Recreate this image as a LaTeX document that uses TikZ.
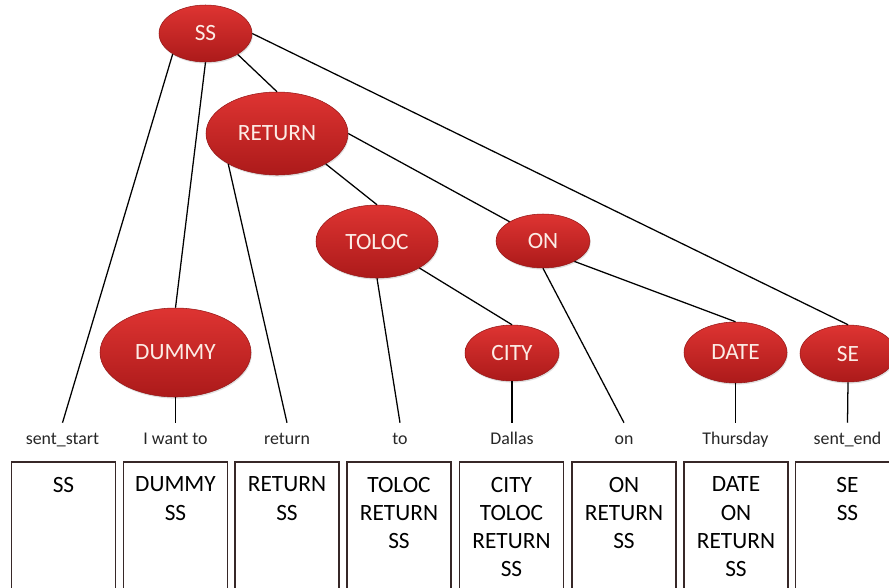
\documentclass[tikz,border=0pt]{standalone}
\usepackage{fontspec}
\setmainfont{Carlito}
\usetikzlibrary{shapes.geometric,shadows}
\definecolor{redtop}{RGB}{222,52,50}
\definecolor{redbot}{RGB}{172,26,26}
\definecolor{redline}{RGB}{150,24,24}
\definecolor{ovaltext}{RGB}{252,236,230}
\definecolor{boxline}{RGB}{55,40,40}
\begin{document}
\begin{tikzpicture}[x=0.75pt,y=-0.75pt,
  oval/.style={ellipse, inner sep=0pt, top color=redtop, bottom color=redbot,
    draw=redline, line width=0.4pt, text=ovaltext,
    font=\fontsize{17.5pt}{21pt}\selectfont,
    drop shadow={opacity=0.25, shadow xshift=0.6pt, shadow yshift=-1.2pt}},
  word/.style={anchor=base, inner xsep=0pt, inner ysep=2.25pt, text height=13.5pt,
    font=\fontsize{13.4pt}{16pt}\selectfont, text=black!85},
  cell/.style={draw=boxline, line width=1.4pt, minimum width=78pt, minimum height=110pt,
    anchor=north, inner sep=0pt},
  celltext/.style={anchor=north, inner sep=0pt, align=center,
    font=\fontsize{17.5pt}{21.2pt}\selectfont},
  link/.style={draw=black, line width=0.95pt}]
\useasboundingbox (0,0) rectangle (889,587);
\clip (0,0) rectangle (889,587);
% ovals
\node[oval, minimum width=69.75pt, minimum height=42.75pt] (ss) at (205.5,33.5) {SS};
\node[oval, minimum width=106.5pt, minimum height=62.25pt] (ret) at (277,133.5) {RETURN};
\node[oval, minimum width=91.5pt, minimum height=54.75pt] (toloc) at (377,241.5) {TOLOC};
\node[oval, minimum width=70.5pt, minimum height=40.5pt] (on) at (543,241) {ON};
\node[oval, minimum width=113.25pt, minimum height=66.75pt] (dummy) at (175.5,352.5) {DUMMY};
\node[oval, minimum width=70.5pt, minimum height=42pt] (city) at (512,353) {CITY};
\node[oval, minimum width=77.25pt, minimum height=45.75pt] (date) at (735.5,352.5) {DATE};
\node[oval, minimum width=72pt, minimum height=42.75pt] (se) at (848,353.5) {SE};
% words
\node[word] (w1) at (62.5,444) {sent\_start};
\node[word] (w2) at (175.5,444) {I want to};
\node[word] (w3) at (287,444) {return};
\node[word] (w4) at (400,444) {to};
\node[word] (w5) at (512,444) {Dallas};
\node[word] (w6) at (624,444) {on};
\node[word] (w7) at (735.5,444) {Thursday};
\node[word] (w8) at (847.5,444) {sent\_end};
% connectors
\path[link] (ss.212.5) -- (w1.north);
\path[link] (ss.270) -- (dummy.north);
\path[link] (ss.327.5) -- (ret.north);
\path[link] (ss.0) -- (se.north);
\path[link] (ret.212.7) -- (w3.north);
\path[link] (ret.328.6) -- (toloc.north);
\path[link] (ret.0) -- (on.150);
\path[link] (toloc.south) -- (w4.north);
\path[link] (toloc.328.4) -- (city.north);
\path[link] (on.south) -- (w6.north);
\path[link] (on.327) -- (date.north);
\path[link] (dummy.south) -- (w2.north);
\path[link] (city.south) -- (w5.north);
\path[link] (date.south) -- (w7.north);
\path[link] (se.south) -- (w8.north);
% boxes
\node[cell] (b1) at (63.5,461) {};
\node[cell] (b2) at (175.5,461) {};
\node[cell] (b3) at (287,461) {};
\node[cell] (b4) at (399,461) {};
\node[cell] (b5) at (511.5,461) {};
\node[cell] (b6) at (624,461) {};
\node[cell] (b7) at (736,461) {};
\node[cell] (b8) at (847.5,461) {};
\node[celltext] (t1) at (63.5,476.6) {SS};
\node[celltext] (t2) at (175.5,476.6) {DUMMY\\SS};
\node[celltext] (t3) at (287,476.6) {RETURN\\SS};
\node[celltext] (t4) at (399,476.6) {TOLOC\\RETURN\\SS};
\node[celltext] (t5) at (511.5,476.6) {CITY\\TOLOC\\RETURN\\SS};
\node[celltext] (t6) at (624,476.6) {ON\\RETURN\\SS};
\node[celltext] (t7) at (736,476.6) {DATE\\ON\\RETURN\\SS};
\node[celltext] (t8) at (847.5,476.6) {SE\\SS};
\end{tikzpicture}
\end{document}
